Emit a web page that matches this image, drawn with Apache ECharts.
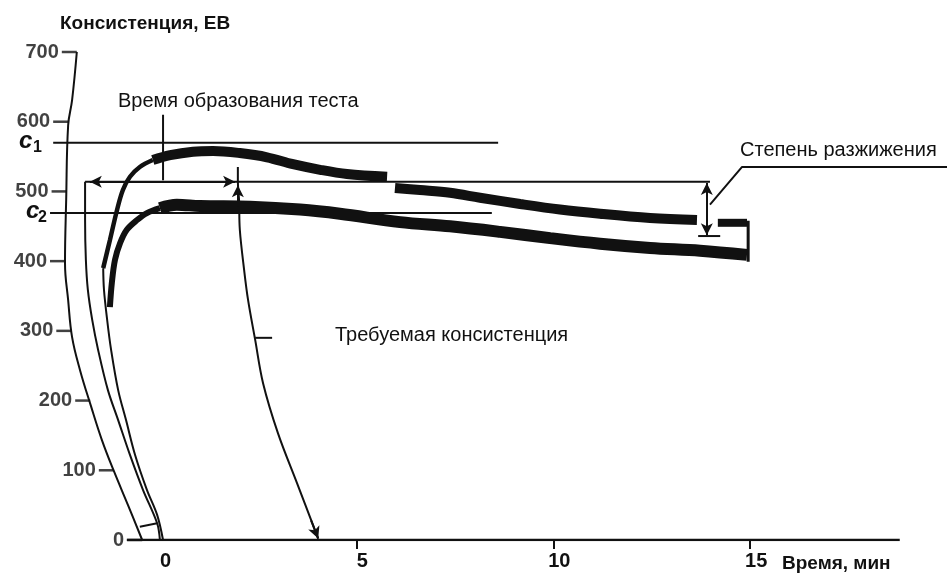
<!DOCTYPE html>
<html>
<head>
<meta charset="utf-8">
<title>Фаринограмма</title>
<script src="https://cdn.jsdelivr.net/npm/echarts@6/dist/echarts.min.js"></script>
<style>
  html, body { margin: 0; padding: 0; background: #fff; }
  #chart { width: 947px; height: 575px; }
</style>
</head>
<body>
<div id="chart"></div>
<script>
// оси: время (мин) и консистенция (ЕВ)
const xTickLabels = [0, 5, 10, 15]
const xTickMarks = [5, 10, 15]
const yTickValues = [0, 100, 200, 300, 400, 500, 600, 700]
// где изогнутая шкала консистенции проходит на уровне каждой метки, мин
const yTickCurveX = [-0.44, -1.16, -1.76, -2.24, -2.40, -2.36, -2.32, -2.10]

// изогнутая шкала консистенции и ось времени, [мин, ЕВ]
const yAxisCurve = [[-2.10, 700], [-2.22, 631], [-2.32, 595], [-2.37, 488], [-2.40, 397], [-2.32, 344],
  [-2.22, 291], [-2.02, 244], [-1.74, 192], [-1.46, 143], [-1.16, 99], [-0.80, 50], [-0.44, 0]]
const xAxisLine = [[-0.83, 0], [18.8, 0]]

// линии c1 и c2
const c1Value = 570
const c2Value = 469
const c1Line = [[-2.70, c1Value], [8.60, c1Value]]
const c2Line = [[-2.78, c2Value], [8.44, c2Value]]

// кривая (верхняя запись)
const upperRise = [[-1.43, 390], [-1.26, 430], [-1.08, 473], [-0.93, 502], [-0.75, 521], [-0.50, 535], [-0.17, 545]]
const upperBand1 = [[-0.17, 545], [0.27, 552], [0.85, 557], [1.36, 558], [2.04, 555], [2.73, 549], [3.39, 539],
  [4.08, 531], [4.76, 525], [5.78, 521]]
const upperBand2 = [[5.98, 505], [6.62, 502], [7.38, 498], [8.14, 491], [9.16, 482], [10.17, 474], [11.19, 468],
  [12.46, 462], [13.65, 459]]
const upperBand3 = [[14.18, 455], [14.92, 455]]
const upperDrop = [[14.95, 458], [14.95, 399]]

// кривая (нижняя запись)
const lowerRise = [[-1.26, 334], [-1.21, 369], [-1.13, 402], [-1.00, 426], [-0.83, 445], [-0.57, 459], [-0.32, 469], [0.01, 476]]
const lowerBand = [[0.01, 476], [0.44, 481], [1.03, 479], [2.30, 478], [3.57, 474], [4.58, 468], [6.11, 456],
  [7.38, 450], [8.65, 442], [9.92, 433], [11.19, 425], [12.46, 419], [13.73, 415], [14.92, 409]]

// дуги пера у начала записи
const penArc = [[-1.43, 390], [-1.41, 359], [-1.33, 316], [-1.23, 273], [-1.05, 215], [-0.85, 172], [-0.62, 122],
  [-0.32, 72], [-0.06, 36], [0.09, 0]]
const bracketArc = [[-1.89, 514], [-1.89, 459], [-1.87, 402], [-1.82, 359], [-1.71, 316], [-1.56, 273], [-1.31, 215],
  [-1.05, 172], [-0.75, 122], [-0.42, 72], [-0.06, 24], [0.01, 0]]
const bracketBar = [[-0.50, 19], [-0.06, 24]]

// время образования теста
const devTimeLine = [[0.09, 610], [0.09, 516]]
const refLine = [[-1.89, 514], [13.98, 514]]
const devArrow = [[-1.77, 514], [1.92, 514]]

// требуемая консистенция: дуга со стрелками
const reqArc = [[1.99, 535], [1.99, 515], [2.02, 488], [2.04, 445], [2.15, 387], [2.25, 344], [2.43, 287],
  [2.63, 225], [3.01, 153], [3.49, 82], [4.03, 2]]
const reqArcTick = [[2.43, 290], [2.86, 290]]
const reqUpArrow = [[1.99, 478], [1.99, 509]]
const reqDownArrow = [[3.85, 28], [4.03, 2]]

// степень разжижения
const softArrow = [[13.90, 512], [13.90, 437]]
const softBar = [[13.68, 436], [14.24, 436]]
const softLeader = [[13.98, 481], [14.79, 535], [20, 535]]

const FONT = 'Liberation Sans, Arial, sans-serif'
const INK = '#111'

const chart = echarts.init(document.getElementById('chart'))

function line(data, width, extra) {
  return Object.assign({
    type: 'line', data: data, symbol: 'none', silent: true, animation: false,
    lineStyle: { color: INK, width: width }
  }, extra || {})
}

function arrows(pairs, both) {
  return {
    silent: true, animation: false,
    symbol: both ? ['arrow', 'arrow'] : ['none', 'arrow'],
    symbolSize: [9, 12],
    lineStyle: { color: INK, width: 2, type: 'solid' },
    label: { show: false },
    data: pairs.map(p => [{ coord: p[0] }, { coord: p[1] }])
  }
}

function text(str, left, top, size, weight, extra) {
  return Object.assign({
    text: str, left: left, top: top, padding: 0,
    textStyle: { fontFamily: FONT, fontSize: size, fontWeight: weight || 'normal', color: INK }
  }, extra || {})
}

function letter(str, left, top, size, style) {
  return {
    text: str, left: left, top: top, padding: 0,
    textStyle: { fontFamily: FONT, fontSize: size, fontStyle: style || 'normal', color: INK }
  }
}

const option = {
  backgroundColor: '#fff',
  title: [
    text('Консистенция, ЕВ', 60, 14, 19, 'bold'),
    text('Время образования теста', 118, 91, 20),
    text('Требуемая консистенция', 335, 325, 20),
    text('Степень разжижения', 740, 140, 20),
    text('Время, мин', 782, 554, 19, 'bold'),
    letter('c', 19, 129, 24, 'italic'),
    letter('1', 33, 140, 16),
    letter('c', 26, 199, 24, 'italic'),
    letter('2', 38, 210, 16)
  ],
  grid: { left: 2, right: 0, top: 52, bottom: 35, outerBoundsMode: 'none' },
  xAxis: {
    type: 'value', min: -4, max: 20,
    axisLine: { show: false },
    splitLine: { show: false },
    axisTick: { show: true, customValues: xTickMarks, length: 9, lineStyle: { color: INK, width: 2 } },
    axisLabel: {
      customValues: xTickLabels, margin: 11, padding: [0, 0, 0, 12],
      fontFamily: FONT, fontSize: 20, fontWeight: 'bold', color: INK
    }
  },
  yAxis: { type: 'value', min: 0, max: 700, show: false },
  series: [
    line(yAxisCurve, 2, { smooth: 0.4 }),
    line(xAxisLine, 2.5),
    {
      type: 'scatter', silent: true, animation: false,
      data: yTickValues.map((v, i) => [yTickCurveX[i], v]),
      symbol: 'rect', symbolSize: [15, 2.5], symbolOffset: [-7.5, 0],
      itemStyle: { color: INK },
      label: {
        show: true, position: 'left', distance: 3,
        formatter: p => String(p.value[1]),
        fontFamily: FONT, fontSize: 20, fontWeight: 'bold', color: INK
      }
    },
    line(c1Line, 2),
    line(c2Line, 2),
    line(devTimeLine, 2),
    line(refLine, 2, { markLine: arrows([devArrow], true) }),
    line(bracketArc, 2, { smooth: 0.35 }),
    line(bracketBar, 2),
    line(penArc, 2, { smooth: 0.35 }),
    line(reqArc, 2, { smooth: 0.35, markLine: arrows([reqUpArrow, reqDownArrow], false) }),
    line(reqArcTick, 2),
    line(upperRise, 4.5, { smooth: 0.35 }),
    line(upperBand1, 10, { smooth: 0.35 }),
    line(upperBand2, 10, { smooth: 0.35 }),
    line(upperBand3, 8),
    line(upperDrop, 3),
    line(lowerRise, 6, { smooth: 0.35 }),
    line(lowerBand, 12, { smooth: 0.35 }),
    line(softBar, 2),
    line(softLeader, 2, { markLine: arrows([softArrow], true) })
  ]
}

chart.setOption(option)
</script>
</body>
</html>
